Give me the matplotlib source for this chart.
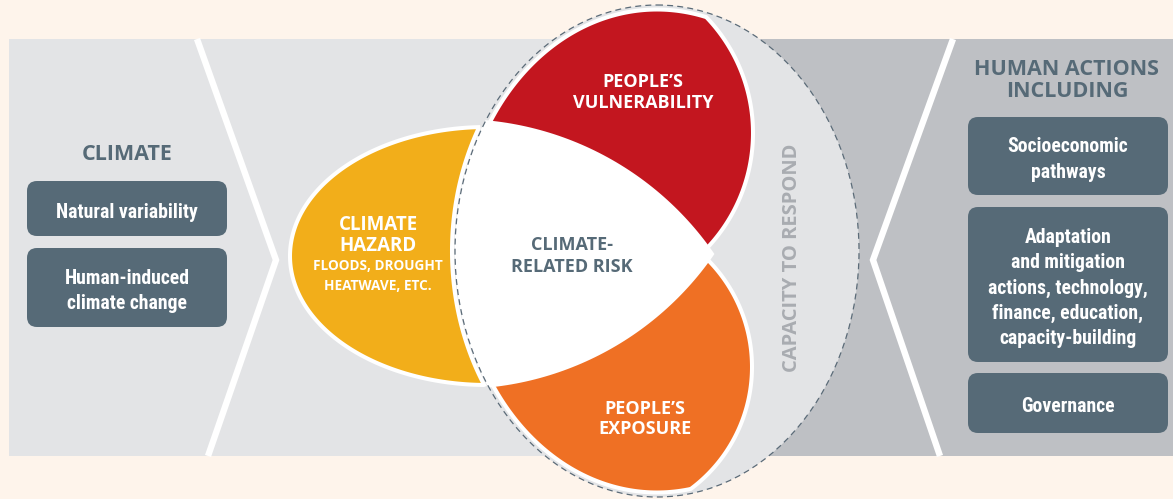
import numpy as np
import matplotlib.pyplot as plt
from matplotlib import font_manager
from matplotlib.patches import Rectangle, FancyBboxPatch, Polygon, Ellipse

plt.rcParams['lines.scale_dashes'] = False

# ---- text content ----
left_title = ["CLIMATE"]
left_boxes = [["Natural variability"],
              ["Human-induced", "climate change"]]
right_title = ["HUMAN ACTIONS", "INCLUDING"]
right_boxes = [["Socioeconomic", "pathways"],
               ["Adaptation", "and mitigation", "actions, technology,",
                "finance, education,", "capacity-building"],
               ["Governance"]]
hazard_title = ["CLIMATE", "HAZARD"]
hazard_sub = ["FLOODS, DROUGHT", "HEATWAVE, ETC."]
vuln_label = ["PEOPLE\u2019S", "VULNERABILITY"]
expo_label = ["PEOPLE\u2019S", "EXPOSURE"]
risk_label = ["CLIMATE-", "RELATED RISK"]
capacity_label = "CAPACITY TO RESPOND"

# box extents (top, bottom) in pixels
left_box_y = [(181, 236), (248, 327)]
right_box_y = [(117, 195), (207, 362), (373, 433)]

cream = '#FEF4EB'
light = '#E3E4E6'
dark = '#BEC0C4'
slate = '#566A77'
red = '#C3161F'
orange = '#EF7024'
yellow = '#F2AE1A'
cap_col = '#A9ACB1'

names = {f.name for f in font_manager.fontManager.ttflist}
head = 'Open Sans' if 'Open Sans' in names else 'DejaVu Sans'

# narrow face for the box texts, if the system has one
box_font = {'family': 'Roboto', 'fontstretch': 'normal'}
cond = [f for f in font_manager.fontManager.ttflist
        if str(f.stretch) in ('condensed', 'semi-condensed', 'extra-condensed')
        or 'Narrow' in f.name or 'Condensed' in f.name]
pref = ['Liberation Sans Narrow', 'Roboto Condensed', 'Open Sans Condensed', 'Noto Sans',
        'Noto Sans Condensed', 'DejaVu Sans Condensed', 'DejaVu Sans']
for p in pref:
    hit = [f for f in cond if f.name == p]
    if hit:
        box_font = {'family': p, 'fontstretch': str(hit[0].stretch)}
        break


def ellipse_pts(cx, cy, a, b, n=400):
    t = np.linspace(0, 2 * np.pi, n, endpoint=False)
    return np.column_stack([cx + a * np.cos(t), cy + b * np.sin(t)])


def clip(subject, clipper):
    # Sutherland-Hodgman, clipper has to be convex
    cl = clipper
    s = np.sign(np.sum(cl[:, 0] * np.roll(cl[:, 1], -1) - np.roll(cl[:, 0], -1) * cl[:, 1]))
    out = subject
    for i in range(len(cl)):
        if len(out) == 0:
            break
        a = cl[i]
        d = cl[(i + 1) % len(cl)] - a
        side = s * (d[0] * (out[:, 1] - a[1]) - d[1] * (out[:, 0] - a[0]))
        inside = side >= 0
        prev = np.roll(out, 1, axis=0)
        prev_side = np.roll(side, 1)
        new = []
        for j in range(len(out)):
            if inside[j] != (prev_side[j] >= 0):
                t = prev_side[j] / (prev_side[j] - side[j])
                new.append(prev[j] + t * (out[j] - prev[j]))
            if inside[j]:
                new.append(out[j])
        out = np.array(new)
    return out


fig = plt.figure(figsize=(11.73, 4.99), dpi=100, facecolor=cream)
ax = fig.add_axes([0, 0, 1, 1])
ax.set_xlim(0, 1173)
ax.set_ylim(499, 0)
ax.axis('off')
renderer = fig.canvas.get_renderer()

# size the box font so the widest line is about 160 px
probe = ax.text(0, 0, "actions, technology,", fontsize=14, fontweight='bold', **box_font)
box_fs = min(15.5, 14 * 160 / probe.get_window_extent(renderer).width)
probe.remove()

# background band
ax.add_patch(Rectangle((9, 39), 1164, 417, color=light, lw=0))
ax.add_patch(Rectangle((720, 39), 453, 417, color=dark, lw=0))

# chevrons
for xs in ([197, 276, 208], [953, 873, 940]):
    ax.plot(xs, [39, 260, 456], color='white', lw=4.6, solid_joinstyle='miter',
            solid_capstyle='butt')

# capacity ellipse
ccx, ccy, ca, cb = 657, 251, 202, 246
ax.add_patch(Ellipse((ccx, ccy), 2 * ca, 2 * cb, color=light, lw=0))

# hazard: ellipse minus the capacity ellipse
hz = ellipse_pts(487, 256, 197, 129, 720)
out_c = ((hz[:, 0] - ccx) / (ca + 3)) ** 2 + ((hz[:, 1] - ccy) / (cb + 3)) ** 2 > 1
cp = ellipse_pts(ccx, ccy, ca + 3, cb + 3, 720)
in_h = ((cp[:, 0] - 487) / 197) ** 2 + ((cp[:, 1] - 256) / 129) ** 2 < 1
hazard = np.vstack([hz[out_c], cp[in_h][::-1]])
ax.add_patch(Polygon(hazard, closed=True, fc=yellow, ec='white', lw=2.9))

c_in = ellipse_pts(ccx, ccy, ca - 4.5, cb - 4.5, 360)
c_in2 = ellipse_pts(ccx, ccy, ca - 1.5, cb - 1.5, 360)
vuln = clip(ellipse_pts(586, 133, 167, 167, 400), c_in)
expo = clip(ellipse_pts(600, 367, 152, 152, 400), c_in)
risk = clip(clip(ellipse_pts(458, 430, 309, 309, 400), ellipse_pts(458, 78, 309, 309, 400)), c_in2)
ax.add_patch(Polygon(vuln, closed=True, fc=red, ec='white', lw=2.9))
ax.add_patch(Polygon(expo, closed=True, fc=orange, ec='white', lw=2.9))
ax.add_patch(Polygon(risk, closed=True, fc='white', ec='white', lw=2.9))

ax.add_patch(Ellipse((ccx, ccy), 2 * ca, 2 * cb, fill=False, ec='#5B6B78', lw=0.9,
                     linestyle=(0, (4.3, 3.0))))


def put_lines(x, y0, dy, lines, **kw):
    for i, s in enumerate(lines):
        ax.text(x, y0 + 2.5 + i * dy, s, ha='center', va='center', **kw)


# left side
put_lines(127, 152, 22, left_title, color=slate, fontsize=15.5, fontweight='bold', family=head)
for lines, (y0, y1) in zip(left_boxes, left_box_y):
    ax.add_patch(FancyBboxPatch((27, y0), 200, y1 - y0, boxstyle='round,pad=0,rounding_size=10',
                                fc=slate, ec='none'))
    mid = (y0 + y1) / 2 - 12.5 * (len(lines) - 1)
    put_lines(127, mid + 1, 25, lines, color='white', fontsize=box_fs, fontweight='bold', **box_font)

# right side
put_lines(1067, 67, 22, right_title, color=slate, fontsize=15.5, fontweight='bold', family=head)
for lines, (y0, y1) in zip(right_boxes, right_box_y):
    ax.add_patch(FancyBboxPatch((968, y0), 200, y1 - y0, boxstyle='round,pad=0,rounding_size=10',
                                fc=slate, ec='none'))
    mid = (y0 + y1) / 2 - 12.7 * (len(lines) - 1)
    put_lines(1068, mid + 1, 25.4, lines, color='white', fontsize=box_fs, fontweight='bold', **box_font)

# middle labels
put_lines(378, 222, 21, hazard_title, color='white', fontsize=13.5, fontweight='bold', family=head)
put_lines(378, 264, 19, hazard_sub, color='white', fontsize=9.8, fontweight='bold', family=head)
put_lines(643, 79, 21, vuln_label, color='white', fontsize=13, fontweight='bold', family=head)
put_lines(645, 406, 21, expo_label, color='white', fontsize=13, fontweight='bold', family=head)
put_lines(572, 242, 23, risk_label, color=slate, fontsize=13, fontweight='bold', family=head)
ax.text(792, 258, capacity_label, rotation=90, ha='center', va='center', color=cap_col,
        fontsize=14.5, fontweight='bold', family=head)

fig.savefig('out.png', dpi=100, facecolor=cream)
